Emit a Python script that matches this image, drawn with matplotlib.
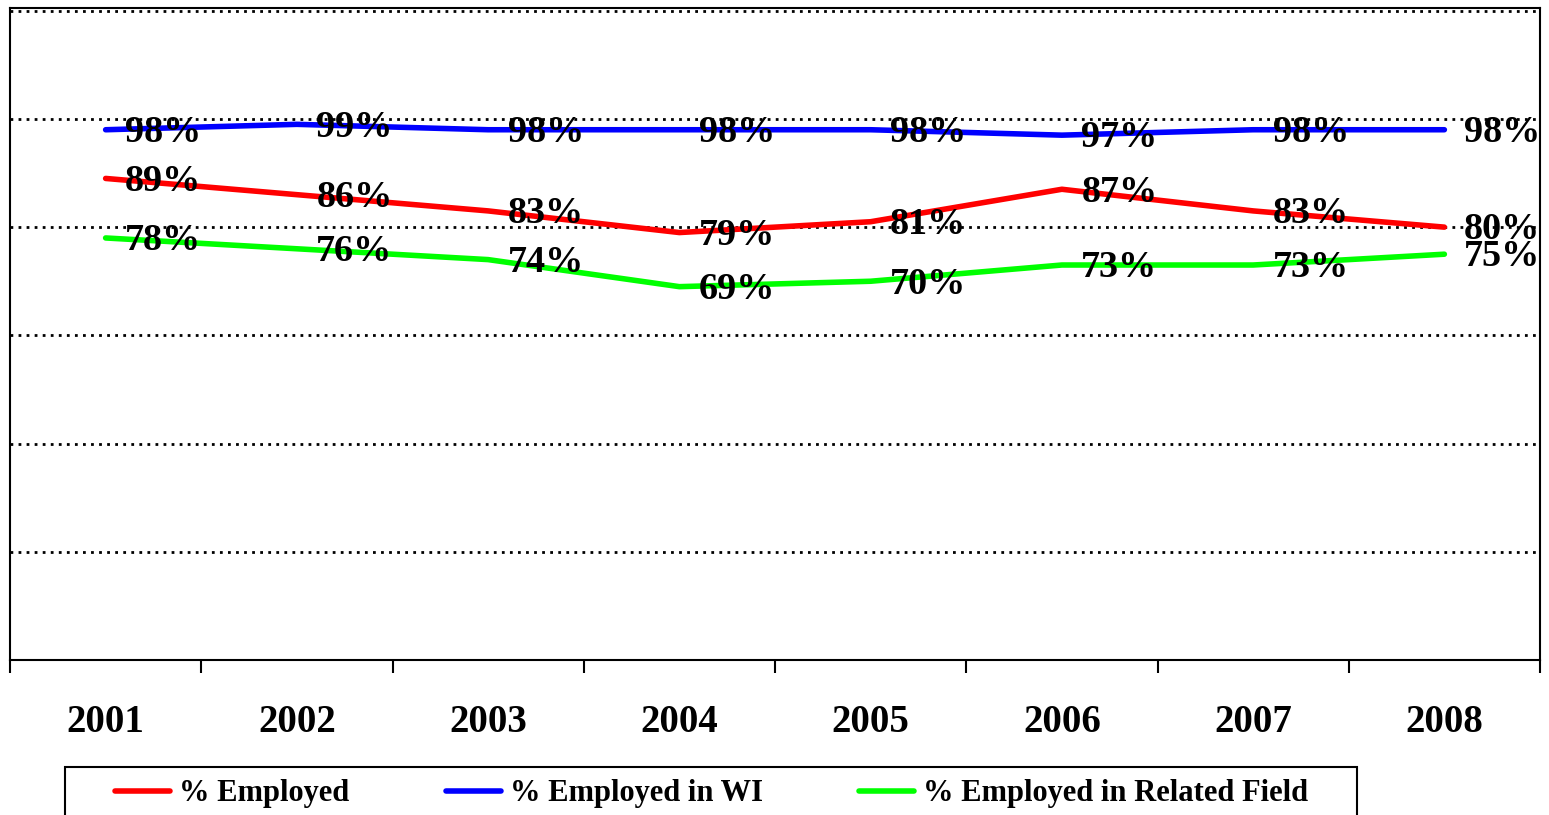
import numpy as np
import matplotlib.pyplot as plt
from matplotlib.patches import Rectangle

plt.rcParams['font.family'] = ['Liberation Serif', 'DejaVu Serif']
plt.rcParams['font.weight'] = 'bold'

years = ['2001', '2002', '2003', '2004', '2005', '2006', '2007', '2008']
employed = [89, 86, 83, 79, 81, 87, 83, 80]
employed_wi = [98, 99, 98, 98, 98, 97, 98, 98]
related_field = [78, 76, 74, 69, 70, 73, 73, 75]

series = [
    ('% Employed', employed, '#ff0000'),
    ('% Employed in WI', employed_wi, '#0000ff'),
    ('% Employed in Related Field', related_field, '#00ff00'),
]

W, H = 1549, 815
fig = plt.figure(figsize=(W / 100, H / 100), dpi=100)
ax = fig.add_axes([10/W, 1 - 660/H, 1530/W, 652/H])

x = np.arange(len(years))
for name, vals, col in series:
    ax.plot(x, vals, color=col, lw=4, solid_capstyle='round',
            solid_joinstyle='round', label=name, zorder=3)
    for xi, v in zip(x, vals):
        ax.annotate(f'{v}%', (xi, v), xytext=(14, -2), textcoords='offset points',
                    ha='left', va='center', fontsize=27.5, fontweight='bold',
                    color='black', zorder=5)

ax.set_xlim(-0.5, len(years) - 0.5)
ax.set_ylim(0, 120.5)

for g in [20, 40, 60, 80, 100, 120]:
    ax.axhline(g, color='black', lw=2, ls=(0, (1, 1.9)), zorder=1)

ax.set_xticks(x)
ax.set_xticklabels(years, fontsize=28, fontweight='bold')
ax.tick_params(axis='x', which='major', length=0, pad=32)
ax.set_xticks(np.arange(-0.5, len(years)), minor=True)
ax.tick_params(axis='x', which='minor', length=9, width=1.5, direction='out')
ax.set_yticks([])

for s in ax.spines.values():
    s.set_linewidth(1.5)
    s.set_color('black')

# legend box runs off the bottom edge like the original
fig.patches.append(Rectangle((65/W, -0.05), (1357 - 65)/W, 0.05 + 48/H,
                             transform=fig.transFigure, fill=False,
                             edgecolor='black', lw=1.5))
fig.legend(loc='upper left', bbox_to_anchor=(103/W, 1 - 767/H),
           ncol=3, fontsize=22, frameon=False, handlelength=1.8,
           handletextpad=0.3, columnspacing=3.15, borderpad=0.4,
           borderaxespad=0)

plt.savefig('out.png', dpi=100)
